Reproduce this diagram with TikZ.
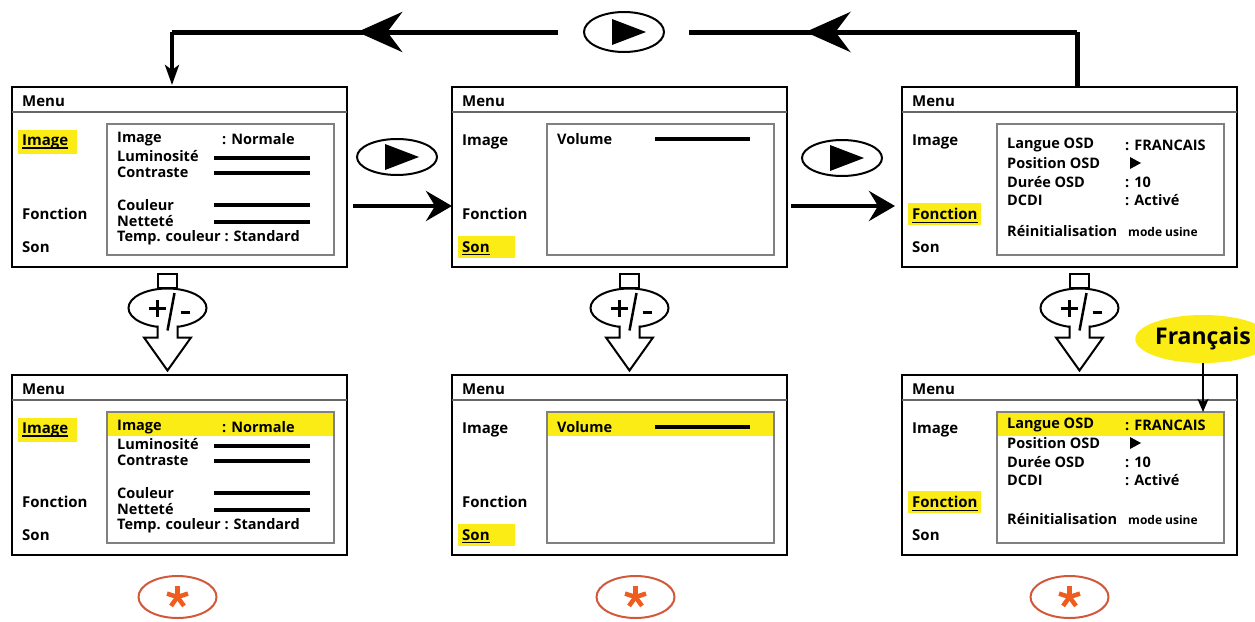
\documentclass[tikz,border=0pt]{standalone}
\usepackage{fontspec}
\setmainfont{Open Sans}
\usetikzlibrary{calc,arrows.meta,shapes.geometric,backgrounds,decorations.markings}

\definecolor{hlyellow}{RGB}{250,236,20}
\definecolor{starorange}{RGB}{238,92,30}
\definecolor{ringorange}{RGB}{210,88,58}

\tikzset{
    menubox/.style={draw,line width=2.5pt,minimum width=335pt,minimum height=180pt,
        anchor=north west,inner sep=0pt,outer sep=0pt},
    headline/.style={line width=1.2pt,black!60},
    panel/.style={draw=black!50,line width=1.5pt,anchor=north west,minimum width=227pt,
        minimum height=131pt,inner sep=0pt,outer sep=0pt},
    menutxt/.style={anchor=west,inner sep=0pt,font=\fontsize{15}{15}\selectfont\bfseries},
    itemtxt/.style={anchor=west,inner sep=0pt,font=\fontsize{14.5}{14.5}\selectfont\bfseries},
    smalltxt/.style={anchor=west,inner sep=0pt,font=\fontsize{12}{12}\selectfont\bfseries},
    level/.style={line width=4pt},
    hl/.style={fill=hlyellow},
    playkey/.style={draw,ellipse,line width=2pt,minimum width=80pt,minimum height=36pt,inner sep=0pt},
    pmkey/.style={draw,ellipse,line width=2pt,minimum width=78pt,minimum height=39pt,inner sep=0pt},
    starkey/.style={draw=ringorange,ellipse,line width=2pt,minimum width=78pt,minimum height=42pt,inner sep=0pt},
    flow/.style={line width=4pt,-{Stealth[length=26pt,width=30pt,inset=9pt]}},
    loopline/.style={line width=5pt},
    midarrow/.style={postaction={decorate},decoration={markings,
        mark=at position #1 with {\arrow{Stealth[length=45pt,width=40pt,inset=15pt]}}}},
}

\begin{document}
\begin{tikzpicture}[x=1pt,y=-1pt]
    % page size, as the scan
    \useasboundingbox (0,0) rectangle (1255,621);

    % six menu screens: top row, and bottom row after +/-
    \foreach \n/\x/\y in {img1/12/87,son1/452/87,fct1/902/87,img2/12/375,son2/452/375,fct2/902/375} {
        \node[menubox] (\n) at (\x,\y) {};
        \draw[headline] ($(\n.north west)+(0,25)$) -- ($(\n.north east)+(0,25)$);
        \node[menutxt] (\n-menu) at ($(\n.north west)+(10,14)$) {Menu};
        \node[panel] (\n-panel) at ($(\n.north west)+(95,37)$) {};
        \node[menutxt] (\n-img) at ($(\n.north west)+(10,55)$) {Image};
        \node[menutxt] (\n-fct) at ($(\n.north west)+(10,127)$) {Fonction};
        \node[menutxt] (\n-son) at ($(\n.north west)+(10,160)$) {Son};
    }

    % Image submenu
    \foreach \n in {img1,img2} {
        \node[itemtxt] (\n-r1) at ($(\n.north west)+(105,52)$) {Image};
        \node[itemtxt] (\n-v1) at ($(\n.north west)+(210,52)$) {: Normale};
        \node[itemtxt] (\n-r2) at ($(\n.north west)+(105,69)$) {Luminosité};
        \node[itemtxt] (\n-r3) at ($(\n.north west)+(105,85)$) {Contraste};
        \node[itemtxt] (\n-r4) at ($(\n.north west)+(105,118)$) {Couleur};
        \node[itemtxt] (\n-r5) at ($(\n.north west)+(105,134)$) {Netteté};
        \node[itemtxt] (\n-r6) at ($(\n.north west)+(105,151)$) {Temp. couleur : Standard};
        \foreach \yy in {71,86,118,135}
            \draw[level] ($(\n.north west)+(202,\yy)$) -- ++(96,0);
    }

    % Son submenu
    \foreach \n in {son1,son2} {
        \node[itemtxt] (\n-r1) at ($(\n.north west)+(105,52)$) {Volume};
        \draw[level] ($(\n.north west)+(203,52)$) -- ++(95,0);
    }

    % Fonction submenu (top one sits a bit lower)
    \foreach \n/\d in {fct1/8,fct2/0} {
        \node[itemtxt] (\n-r1) at ($(\n.north west)+(105,50+\d)$) {Langue OSD};
        \node[itemtxt] (\n-v1) at ($(\n.north west)+(223,50+\d)$) {: FRANCAIS};
        \node[itemtxt] (\n-r2) at ($(\n.north west)+(105,68+\d)$) {Position OSD};
        \fill ($(\n.north west)+(228,62+\d)$) -- ++(0,12) -- ++(11,-6) -- cycle;
        \node[itemtxt] (\n-r3) at ($(\n.north west)+(105,87+\d)$) {Durée OSD};
        \node[itemtxt] (\n-v3) at ($(\n.north west)+(223,87+\d)$) {: 10};
        \node[itemtxt] (\n-r4) at ($(\n.north west)+(105,105+\d)$) {DCDI};
        \node[itemtxt] (\n-v4) at ($(\n.north west)+(223,105+\d)$) {: Activé};
        \node[itemtxt] (\n-r5) at ($(\n.north west)+(105,144)$) {Réinitialisation};
        \node[smalltxt] (\n-v5) at ($(\n.north west)+(226,145)$) {mode usine};
    }

    % yellow marks of the selected entries
    \begin{scope}[on background layer]
        \foreach \lab/\e in {img1-img/9,img2-img/9,fct1-fct/3,fct2-fct/3,son1-son/25,son2-son/25}
            \fill[hl] ($(\lab.north west)+(-4,-5)$) rectangle ($(\lab.south east)+(\e,5)$);
        \foreach \n in {img2,son2,fct2}
            \fill[hl] (\n-panel.north west) rectangle ($(\n-panel.north east)+(0,24)$);
    \end{scope}
    \foreach \lab in {img1-img,img2-img,fct1-fct,fct2-fct,son1-son,son2-son}
        \draw[line width=1.2pt] ($(\lab.base west)+(0,2.5)$) -- ($(\lab.base east)+(0,2.5)$);

    % play key between the screens
    \node[playkey] (p1) at (397,157) {};
    \node[playkey] (p2) at (842,158) {};
    \node[playkey,minimum height=40pt] (p0) at (624,32) {};
    \foreach \p in {p0,p1,p2}
        \fill ($(\p)+(-12,-13)$) -- ($(\p)+(-12,13)$) -- ($(\p)+(22,0)$) -- cycle;
    \draw[flow] ($(img1.east)+(6,29)$) -- ($(son1.west)+(0,29)$);
    \draw[flow] ($(son1.east)+(4,29)$) -- ($(fct1.west)+(-7,29)$);

    % way back to the first screen
    \coordinate (tr) at ($(fct1.north)+(7.5,-55)$);
    \coordinate (tl) at ($(img1.north)+(-7.5,-55)$);
    \draw[loopline] ($(fct1.north)+(7.5,-1)$) -- (tr);
    \draw[loopline,midarrow=0.7] (tr) -- ($(p0.east)+(24,0)$);
    \draw[loopline,midarrow=0.52] ($(p0.west)+(-25,0)$) -- (tl);
    \draw[line width=4pt,-{Stealth[length=20pt,width=14pt,inset=5pt]}] (tl) -- ($(img1.north)+(-7.5,-2)$);

    % +/- key with hollow arrow down
    \foreach \n/\m/\dx in {img1/img2/-12,son1/son2/10,fct1/fct2/10} {
        \node[pmkey] (\n-key) at ($(\n.south)+(\dx,41)$) {};
        \draw[line width=2pt,fill=white] ($(\n-key.north)+(-9.5,-14)$) rectangle ($(\n-key.north)+(9.5,0)$);
        \draw[line width=2pt,fill=white,line join=miter] ($(\n-key.south)+(-10,-3)$) -- ++(0,12) -- ++(-13.5,0)
            -- ($(\n-key.south)+(0,42)$) -- ($(\n-key.south)+(23.5,9)$) -- ++(-13.5,0) -- ++(0,-12);
        \draw[line width=3pt] ($(\n-key)+(-19,0)$) -- ++(17,0);
        \draw[line width=3pt] ($(\n-key)+(-10.5,-8.5)$) -- ++(0,17);
        \draw[line width=3pt] ($(\n-key)+(13,4)$) -- ++(9,0);
        \draw[line width=2.5pt] ($(\n-key)+(7,-15)$) -- ($(\n-key.south)+(0,2)$);
    }

    % confirm keys
    \foreach \m/\dx in {img2/-2,son2/16,fct2/0} {
        \node[starkey] (\m-star) at ($(\m.south)+(\dx,42)$) {};
        \foreach \a in {270,342,54,126,198}
            \draw[starorange,line width=4.5pt] (\m-star.center) -- ++(\a:11);
    }

    % language bubble
    \node[ellipse,fill=hlyellow,minimum width=120pt,minimum height=48pt,inner sep=0pt,
        font=\fontsize{23}{23}\selectfont\bfseries] (fr) at (1203,339) {Français};
    \draw[line width=2.2pt,-{Stealth[length=13pt,width=11pt,inset=3pt]}] (fr.south) -- (fr.south |- fct2-panel.north);
\end{tikzpicture}
\end{document}
